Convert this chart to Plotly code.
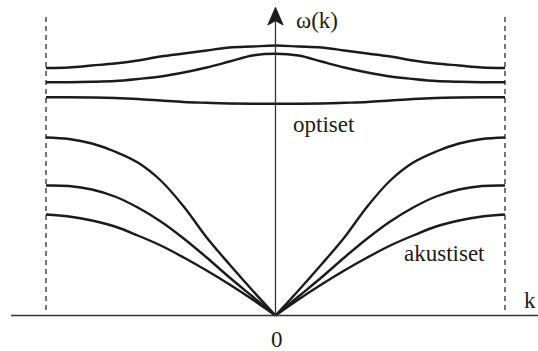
import plotly.graph_objects as go

# Half of the Brillouin zone (dispersion is symmetric in k)
k_half = [0.0, 0.1, 0.2, 0.3, 0.4, 0.5, 0.6, 0.7, 0.8, 0.9, 1.0]

# Optical branches
optical_1 = [2.700, 2.690, 2.680, 2.650, 2.620, 2.590, 2.550, 2.520, 2.500, 2.480, 2.475]
optical_2 = [2.617, 2.600, 2.540, 2.480, 2.430, 2.390, 2.365, 2.345, 2.337, 2.333, 2.333]
optical_3 = [2.117, 2.117, 2.120, 2.127, 2.135, 2.150, 2.165, 2.175, 2.180, 2.183, 2.183]

# Acoustic branches
acoustic_1 = [0.0, 0.25, 0.51, 0.78, 1.09, 1.35, 1.53, 1.64, 1.72, 1.765, 1.78]
acoustic_2 = [0.0, 0.19, 0.38, 0.58, 0.77, 0.94, 1.08, 1.19, 1.26, 1.295, 1.30]
acoustic_3 = [0.0, 0.16, 0.31, 0.45, 0.58, 0.70, 0.80, 0.89, 0.95, 0.99, 1.01]

labels = {"axis_y": "ω(k)", "axis_x": "k", "origin": "0",
          "optical": "optiset", "acoustic": "akustiset"}

FONT = "Liberation Serif"
INK = "#1b1b1b"
LW = 2.4

fig = go.Figure()

k_left = [-k for k in k_half[::-1]]

# optical branches: smooth across k = 0
for w in (optical_1, optical_2, optical_3):
    fig.add_trace(go.Scatter(
        x=k_left + k_half[1:], y=w[::-1] + w[1:],
        mode="lines", line=dict(color=INK, width=LW, shape="spline", smoothing=1.0),
        hoverinfo="skip", showlegend=False))

# acoustic branches: cusp at k = 0, drawn as two halves
for w in (acoustic_1, acoustic_2, acoustic_3):
    for xs, ys in ((k_left, w[::-1]), (k_half, w)):
        fig.add_trace(go.Scatter(
            x=xs, y=ys, mode="lines",
            line=dict(color=INK, width=LW, shape="spline", smoothing=1.0),
            hoverinfo="skip", showlegend=False))

shapes = [
    # k axis
    dict(type="line", x0=-1.1525, x1=1.16, y0=0, y1=0,
         line=dict(color="#333333", width=1.3)),
    # omega axis
    dict(type="line", x0=0, x1=0, y0=0, y1=2.95,
         line=dict(color="#333333", width=1.3)),
    # arrow head
    dict(type="path", path="M 0,3.083 L 0.0336,2.905 Q 0.012,2.93 0,2.948 Q -0.012,2.93 -0.0336,2.905 Z",
         fillcolor=INK, line=dict(color=INK, width=0.8)),
    # zone boundaries
    dict(type="line", x0=-1, x1=-1, y0=0.055, y1=2.985,
         line=dict(color=INK, width=1.2, dash="5px,4px")),
    dict(type="line", x0=1, x1=1, y0=0.055, y1=2.985,
         line=dict(color=INK, width=1.2, dash="5px,4px")),
]

ann_font = dict(family=FONT, size=23, color=INK)
annotations = [
    dict(x=0.082, y=2.955, text=labels["axis_y"], xanchor="left", yanchor="middle"),
    dict(x=0.069, y=1.91, text=labels["optical"], xanchor="left", yanchor="middle"),
    dict(x=0.553, y=0.62, text=labels["acoustic"], xanchor="left", yanchor="middle"),
    dict(x=0.005, y=-0.235, text=labels["origin"], xanchor="center", yanchor="middle"),
    dict(x=1.1425, y=0.155, text=labels["axis_x"], xanchor="right", yanchor="middle"),
]
for a in annotations:
    a.update(showarrow=False, font=ann_font, xref="x", yref="y")

fig.update_layout(
    width=538, height=351,
    margin=dict(l=0, r=0, t=0, b=0),
    paper_bgcolor="white", plot_bgcolor="white",
    font=dict(family=FONT),
    xaxis=dict(range=[-1.2004, 1.1438], visible=False, fixedrange=True),
    yaxis=dict(range=[-0.355, 3.155], visible=False, fixedrange=True),
    shapes=shapes, annotations=annotations,
    showlegend=False,
)

fig.write_html("out.html")
